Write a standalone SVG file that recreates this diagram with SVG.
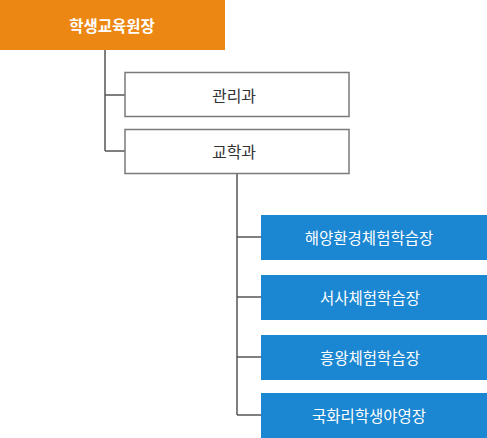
<svg xmlns="http://www.w3.org/2000/svg" width="487" height="438" viewBox="0 0 487 438">
<style>
.root{fill:#ED8714}
.sub{fill:#fff;stroke:#7a7a7a;stroke-width:1.5}
.leaf{fill:#1B86D1}
.t{font-family:"Noto Sans CJK KR","Noto Sans",sans-serif;text-anchor:middle;dominant-baseline:central}
.rt{fill:#fff;font-size:15.5px;font-weight:bold}
.st{fill:#333;font-size:16px}
.lt{fill:#fff;font-size:15.5px}
.c{fill:none;stroke:#555;stroke-width:1.5}
</style>
<g id="connectors">
<path class="c" d="M105 50V151M105 95H125M105 151H125"/>
<path class="c" d="M237 173V415M237 237H261M237 297H261M237 357H261M237 415H261"/>
</g>
<g id="n0"><rect class="root" x="0" y="0" width="225" height="50"/><text class="t rt" x="112" y="25">학생교육원장</text></g>
<g id="n1"><rect class="sub" x="125" y="72.5" width="224" height="44"/><text class="t st" x="234" y="95">관리과</text></g>
<g id="n2"><rect class="sub" x="125" y="129.5" width="224" height="44"/><text class="t st" x="234" y="151">교학과</text></g>
<g id="n3"><rect class="leaf" x="261" y="215" width="226" height="45"/><text class="t lt" x="369" y="237">해양환경체험학습장</text></g>
<g id="n4"><rect class="leaf" x="261" y="275" width="226" height="45"/><text class="t lt" x="370" y="297">서사체험학습장</text></g>
<g id="n5"><rect class="leaf" x="261" y="335" width="226" height="45"/><text class="t lt" x="370" y="357">흥왕체험학습장</text></g>
<g id="n6"><rect class="leaf" x="261" y="393" width="226" height="45"/><text class="t lt" x="369" y="415">국화리학생야영장</text></g>
</svg>
